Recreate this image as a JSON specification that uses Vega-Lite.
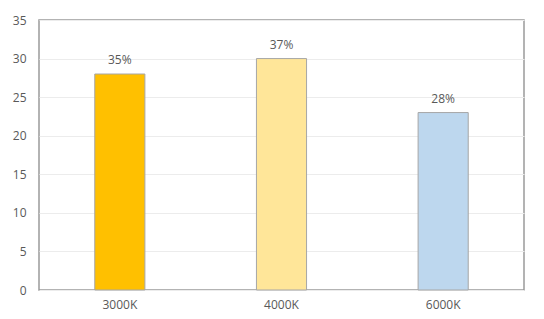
{
  "$schema": "https://vega.github.io/schema/vega-lite/v6.json",
  "width": 485,
  "height": 270,
  "autosize": {"type": "none"},
  "padding": {"left": 39, "top": 20, "right": 20, "bottom": 29},
  "background": "white",
  "data": {"values": [
    {"cct": "3000K", "value": 28, "label": "35%", "color": "#FFC000"},
    {"cct": "4000K", "value": 30, "label": "37%", "color": "#FFE699"},
    {"cct": "6000K", "value": 23, "label": "28%", "color": "#BDD7EE"}
  ]},
  "encoding": {
    "x": {"field": "cct", "type": "nominal", "sort": null,
      "scale": {"paddingInner": 0.69, "paddingOuter": 0.345},
      "axis": {"title": null, "labelAngle": 0, "ticks": false, "domain": false, "labelPadding": 9, "grid": false}},
    "y": {"field": "value", "type": "quantitative",
      "scale": {"domain": [0, 35], "nice": false},
      "axis": {"title": null, "values": [0,5,10,15,20,25,30,35], "ticks": false, "domain": false, "labelPadding": 13, "grid": true, "gridColor": "#ececec"}}
  },
  "layer": [
    {"mark": {"type": "bar", "stroke": "#a6a6a6", "strokeWidth": 1},
     "encoding": {"color": {"field": "color", "type": "nominal", "scale": null}}},
    {"mark": {"type": "text", "dy": -14, "fontSize": 12, "font": "Open Sans", "color": "#595959"},
     "encoding": {"text": {"field": "label"}}}
  ],
  "config": {
    "view": {"stroke": "#9a9a9a", "strokeWidth": 1.5},
    "axis": {"labelFont": "Open Sans", "labelFontSize": 12, "labelColor": "#595959"}
  }
}
